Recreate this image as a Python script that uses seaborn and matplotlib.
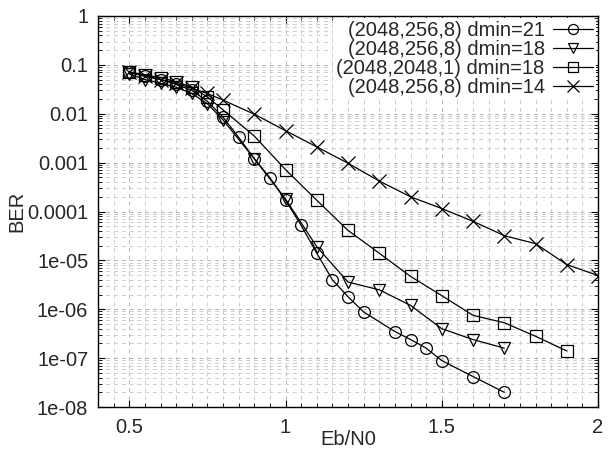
import numpy as np
import pandas as pd
import matplotlib
matplotlib.use("Agg")
import matplotlib.pyplot as plt
import matplotlib.ticker as mticker
import seaborn as sns

# --- values (Eb/N0 vs BER) ---
labels = ["(2048,256,8) dmin=21", "(2048,256,8) dmin=18",
          "(2048,2048,1) dmin=18", "(2048,256,8) dmin=14"]
marker_list = ["o", "v", "s", "x"]

x_d21 = [0.5, 0.55, 0.6, 0.65, 0.7, 0.75, 0.8, 0.85, 0.9, 0.95, 1.0, 1.05, 1.1,
         1.15, 1.2, 1.25, 1.35, 1.4, 1.45, 1.5, 1.6, 1.7]
y_d21 = [0.07, 0.06, 0.05, 0.04, 0.03, 0.018, 0.0085, 0.0033, 0.0012, 4.9e-4,
         1.7e-4, 5.2e-5, 1.4e-5, 4.0e-6, 1.8e-6, 8.8e-7, 3.5e-7, 2.4e-7, 1.6e-7,
         8.9e-8, 4.2e-8, 2.0e-8]

x_d18 = [0.5, 0.55, 0.6, 0.65, 0.7, 0.75, 0.8, 0.9, 1.0, 1.1, 1.2, 1.3, 1.4,
         1.5, 1.6, 1.7]
y_d18 = [0.065, 0.05, 0.042, 0.035, 0.026, 0.016, 0.0075, 0.0012, 1.8e-4,
         1.9e-5, 3.6e-6, 2.5e-6, 1.2e-6, 4.0e-7, 2.4e-7, 1.6e-7]

x_sq = [0.5, 0.55, 0.6, 0.65, 0.7, 0.75, 0.8, 0.9, 1.0, 1.1, 1.2, 1.3, 1.4,
        1.5, 1.6, 1.7, 1.8, 1.9]
y_sq = [0.072, 0.062, 0.055, 0.045, 0.035, 0.022, 0.012, 0.0035, 7.2e-4,
        1.7e-4, 4.1e-5, 1.4e-5, 4.7e-6, 1.9e-6, 7.5e-7, 5.3e-7, 2.8e-7, 1.4e-7]

x_d14 = [0.5, 0.55, 0.6, 0.65, 0.7, 0.75, 0.8, 0.9, 1.0, 1.1, 1.2, 1.3, 1.4,
         1.5, 1.6, 1.7, 1.8, 1.9, 2.0]
y_d14 = [0.07, 0.058, 0.05, 0.042, 0.033, 0.026, 0.019, 0.0098, 0.0045, 0.0021,
         9.7e-4, 4.2e-4, 2.0e-4, 1.15e-4, 6.3e-5, 3.2e-5, 2.2e-5, 8.2e-6, 4.9e-6]

y_ticks = [1, 0.1, 0.01, 0.001, 1e-4, 1e-5, 1e-6, 1e-7, 1e-8]
x_ticks = [0.5, 1, 1.5, 2]

series = [(x_d21, y_d21), (x_d18, y_d18), (x_sq, y_sq), (x_d14, y_d14)]

sns.set_style("ticks")
plt.rcParams["font.family"] = ["Liberation Sans", "DejaVu Sans"]
FS = 14.5

fig = plt.figure(figsize=(6.1, 4.49), dpi=100)
ax = fig.add_axes([0.1607, 0.0935, 0.8197, 0.8709])

for (xs, ys), lab, mk in zip(series, labels, marker_list):
    d = pd.DataFrame({"ebn0": xs, "ber": ys})
    sns.lineplot(data=d, x="ebn0", y="ber", color="black", linewidth=0.9,
                 marker=mk, markersize=8.5 if mk != "x" else 10,
                 markerfacecolor="none", markeredgecolor="black",
                 markeredgewidth=0.9, sort=False, label=lab, ax=ax, zorder=3)

ax.set_yscale("log")
ax.set_xlim(0.4, 2.0)
ax.set_ylim(1e-8, 1)
ax.set_xticks(x_ticks)
ax.set_xticklabels(["0.5", "1", "1.5", "2"])
ax.xaxis.set_minor_locator(mticker.MultipleLocator(0.05))
ax.yaxis.set_major_locator(mticker.FixedLocator(y_ticks))
ax.yaxis.set_major_formatter(mticker.FuncFormatter(lambda v, p: "%g" % v))
ax.yaxis.set_minor_locator(mticker.LogLocator(base=10, subs=np.arange(2, 10), numticks=20))
ax.yaxis.set_minor_formatter(mticker.NullFormatter())

ax.grid(True, which="major", color="#b4b4b4", linestyle=(0, (4, 4)), linewidth=0.7)
ax.grid(True, which="minor", color="#cdcdcd", linestyle=(0, (4, 4)), linewidth=0.7)
ax.set_axisbelow(True)

ax.tick_params(which="both", direction="in", top=True, right=True,
               labelsize=FS, color="black")
ax.tick_params(axis="y", which="major", pad=7)
ax.tick_params(axis="x", which="major", pad=8)
ax.tick_params(which="major", length=5)
ax.tick_params(which="minor", length=3)
for s in ax.spines.values():
    s.set_linewidth(1.0)
    s.set_color("black")

ax.set_xlabel("Eb/N0", fontsize=FS)
ax.set_ylabel("BER", fontsize=FS)
ax.xaxis.set_label_coords(0.5, -0.083)
ax.xaxis.label.set_va("center")
ax.yaxis.set_label_coords(-0.163, 0.5)
ax.yaxis.label.set_va("center")

leg = ax.legend(loc="upper right", markerfirst=False, frameon=True,
                fontsize=FS, handlelength=2.0, labelspacing=0.0,
                borderaxespad=0.1, handletextpad=0.4, borderpad=0.15,
                markerscale=0.85)
leg.get_frame().set_edgecolor("none")
leg.get_frame().set_facecolor("white")
leg.get_frame().set_alpha(1.0)

fig.savefig("out.png", dpi=100)
